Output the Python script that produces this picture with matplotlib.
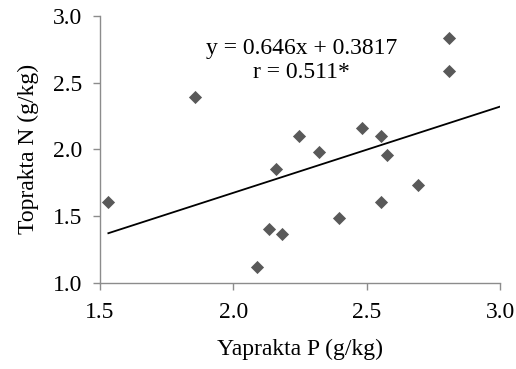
import matplotlib.pyplot as plt
import numpy as np

plt.rcParams['font.family'] = ['Liberation Serif', 'DejaVu Serif']

# leaf P vs soil N
yaprak_p = [1.531, 1.856, 2.090, 2.134, 2.159, 2.181, 2.247, 2.321,
            2.396, 2.481, 2.552, 2.577, 2.552, 2.694, 2.810, 2.810]
toprak_n = [1.607, 2.393, 1.120, 1.400, 1.852, 1.363, 2.099, 1.977,
            1.482, 2.157, 2.099, 1.954, 1.607, 1.732, 2.835, 2.588]
slope, intercept = 0.646, 0.3817

fig = plt.figure(figsize=(5.16, 3.69), dpi=100)
ax = fig.add_axes([0.194, 0.234, 0.775, 0.723])

ax.scatter(yaprak_p, toprak_n, marker='D', s=45, color='#595959', zorder=3, linewidths=0)
xl = np.array([min(yaprak_p), 3.0])
ax.plot(xl, slope*xl + intercept, color='black', linewidth=1.3, zorder=2)

ax.text(2.257, 2.755, 'y = 0.646x + 0.3817', ha='center', va='center', fontsize=17)
ax.text(2.257, 2.578, 'r = 0.511*', ha='center', va='center', fontsize=17)

ax.set_xlim(1.5, 3.0)
ax.set_ylim(1.0, 3.0)
ax.set_xticks([1.5, 2.0, 2.5, 3.0])
ax.set_yticks([1.0, 1.5, 2.0, 2.5, 3.0])
ax.set_xticklabels(['1.5', '2.0', '2.5', '3.0'])
ax.set_yticklabels(['1.0', '1.5', '2.0', '2.5', '3.0'])
for s in ['top', 'right']:
    ax.spines[s].set_visible(False)
for s in ['left', 'bottom']:
    ax.spines[s].set_color('#8c8c8c')
    ax.spines[s].set_linewidth(1.0)
ax.tick_params(colors='#8c8c8c', labelcolor='black', labelsize=17, length=5, width=1.0)
ax.tick_params(axis='y', pad=8)
ax.tick_params(axis='x', pad=9)
ax.set_xlabel('Yaprakta P (g/kg)', fontsize=17, labelpad=11)
ax.set_ylabel('Toprakta N (g/kg)', fontsize=17, labelpad=10)

fig.savefig('out.png', dpi=100)
